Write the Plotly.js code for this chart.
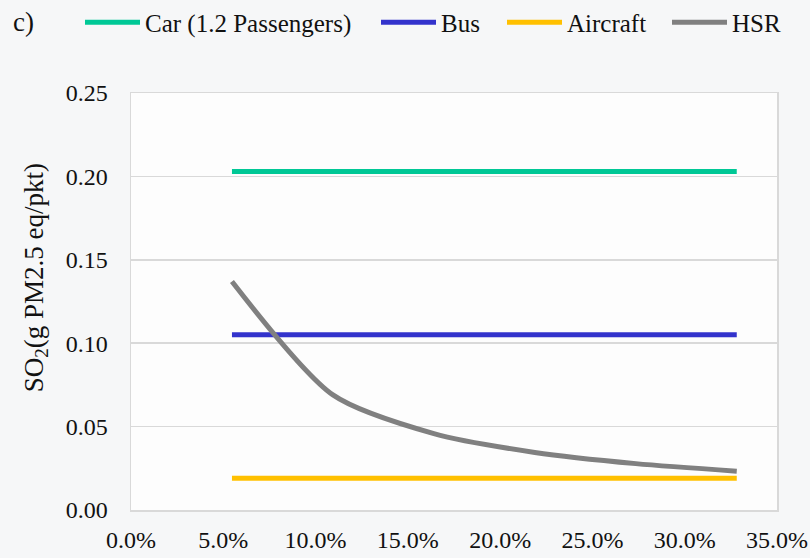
<!DOCTYPE html>
<html>
<head>
<meta charset="utf-8">
<script src="https://cdn.plot.ly/plotly-3.0.1.min.js"></script>
<style>
html,body{margin:0;padding:0;background:#f6f7f8;}
#chart{width:810px;height:558px;}
</style>
</head>
<body>
<div id="chart"></div>
<script>
// Data
const shareX = [0.0547, 0.1094, 0.1641, 0.2188, 0.2735, 0.3282];
const carValues = [0.203, 0.203, 0.203, 0.203, 0.203, 0.203];
const busValues = [0.105, 0.105, 0.105, 0.105, 0.105, 0.105];
const aircraftValues = [0.019, 0.019, 0.019, 0.019, 0.019, 0.019];
const hsrValues = [0.137, 0.069, 0.0458, 0.0345, 0.0278, 0.0233];
const seriesNames = ["Car (1.2 Passengers)", "Bus", "Aircraft", "HSR"];
const xTickVals = [0, 0.05, 0.10, 0.15, 0.20, 0.25, 0.30, 0.35];
const yTickVals = [0, 0.05, 0.10, 0.15, 0.20, 0.25];

const FONT = "Liberation Serif";
const legendIds = ["legend", "legend2", "legend3", "legend4"];
function tr(i, y, color, spline) {
  return {
    x: shareX, y: y, name: seriesNames[i], type: "scatter", mode: "lines",
    legend: legendIds[i],
    line: {color: color, width: 5, shape: spline ? "spline" : "linear", smoothing: 0.75},
    hoverinfo: "skip"
  };
}
const data = [
  tr(0, carValues, "#00c896", false),
  tr(1, busValues, "#3333cc", false),
  tr(2, aircraftValues, "#ffc000", false),
  tr(3, hsrValues, "#808080", true)
];
const L = 131, R = 777, T = 92.5, B = 510;
function leg(textStartPx) {
  return {
    orientation: "h", x: (textStartPx - 66 - L) / (R - L), xanchor: "left",
    y: (B - 22) / (B - T), yanchor: "middle",
    font: {family: FONT, size: 25, color: "#111"}, bgcolor: "rgba(0,0,0,0)",
    itemwidth: 55
  };
}
const layout = {
  width: 810, height: 558,
  margin: {l: L, r: 810 - R, t: T, b: 558 - B, pad: 0, autoexpand: false},
  paper_bgcolor: "#f6f7f8",
  plot_bgcolor: "#fdfdfd",
  font: {family: FONT, size: 24, color: "#111"},
  showlegend: true,
  legend: leg(146), legend2: leg(442), legend3: leg(568), legend4: leg(733),
  xaxis: {
    range: [0, 0.35], tickvals: xTickVals, tickformat: ".1%",
    showgrid: false, zeroline: false,
    showline: true, linecolor: "#d9d9d9", linewidth: 1.5, mirror: true,
    ticks: "outside", ticklen: 8, tickcolor: "rgba(0,0,0,0)",
    tickfont: {family: FONT, size: 24, color: "#111"}
  },
  yaxis: {
    range: [0, 0.25], tickvals: yTickVals, tickformat: ".2f",
    showgrid: true, gridcolor: "#d9d9d9", gridwidth: 1.5, zeroline: false,
    showline: true, linecolor: "#d9d9d9", linewidth: 1.5, mirror: true,
    ticks: "outside", ticklen: 17, tickcolor: "rgba(0,0,0,0)",
    tickfont: {family: FONT, size: 24, color: "#111"}
  },
  annotations: [
    {text: "c)", xref: "paper", yref: "paper", x: (23 - L) / (R - L), y: (B - 21) / (B - T),
     xanchor: "center", yanchor: "middle", showarrow: false,
     font: {family: FONT, size: 27, color: "#111"}},
    {text: "SO<sub>2</sub>(g PM2.5 eq/pkt)", xref: "paper", yref: "paper",
     x: (36 - L) / (R - L), y: (B - 278) / (B - T), textangle: -90,
     xanchor: "center", yanchor: "middle", showarrow: false,
     font: {family: FONT, size: 27, color: "#111"}}
  ]
};
Plotly.newPlot("chart", data, layout, {staticPlot: true, displayModeBar: false});
</script>
</body>
</html>
